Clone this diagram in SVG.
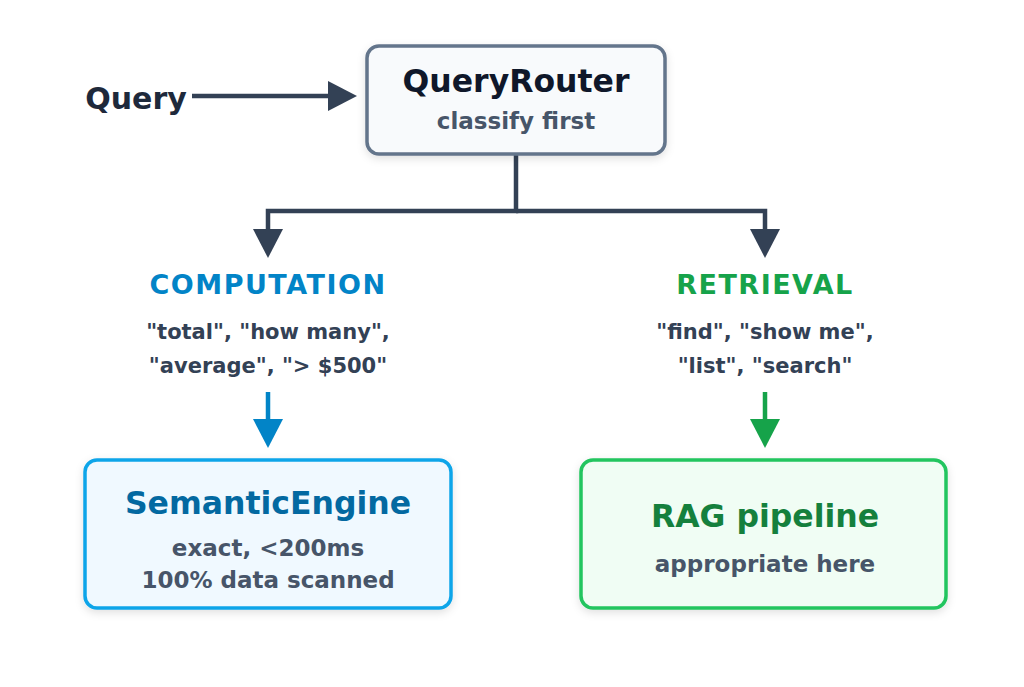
<svg xmlns="http://www.w3.org/2000/svg" width="1024" height="687" viewBox="0 0 1024 687">
<style>
text{font-family:"DejaVu Sans","Liberation Sans",sans-serif;font-weight:bold;text-anchor:middle}
.kw{font-size:21px;fill:#334155}
.sub{font-size:23px;fill:#475569}
.conn{fill:none;stroke:#334155;stroke-width:4.5}
</style>
<defs>
<filter id="sh" x="-10%" y="-10%" width="120%" height="130%">
<feDropShadow dx="0" dy="3" stdDeviation="4" flood-color="#000" flood-opacity="0.12"/>
</filter>
</defs>
<rect width="1024" height="687" fill="#fff"/>
<g id="connectors">
<line class="conn" x1="192" y1="96" x2="330" y2="96"/>
<polygon points="328,81 357,96 328,111" fill="#334155"/>
<polyline class="conn" points="516,154 516,211 268,211 268,232"/>
<polyline class="conn" points="516,211 765,211 765,232"/>
<polygon points="253,229 283,229 268,258" fill="#334155"/>
<polygon points="750,229 780,229 765,258" fill="#334155"/>
<line x1="268" y1="392" x2="268" y2="422" stroke="#0284c7" stroke-width="4.5"/>
<polygon points="253,419 283,419 268,448" fill="#0284c7"/>
<line x1="765" y1="392" x2="765" y2="422" stroke="#16a34a" stroke-width="4.5"/>
<polygon points="750,419 780,419 765,448" fill="#16a34a"/>
</g>
<g id="query">
<text x="136" y="109" style="font-size:30px;fill:#1e293b">Query</text>
</g>
<g id="router">
<rect x="367" y="46" width="298" height="108" rx="12" fill="#f8fafc" stroke="#64748b" stroke-width="3.5" filter="url(#sh)"/>
<text x="516" y="92" style="font-size:31.5px;fill:#0f172a">QueryRouter</text>
<text x="516" y="129" class="sub">classify first</text>
</g>
<g id="computation">
<text x="268" y="294" style="font-size:27px;fill:#0284c7;letter-spacing:1.5px">COMPUTATION</text>
<text x="268" y="339" class="kw">"total", "how many",</text>
<text x="268" y="373" class="kw">"average", "&gt; $500"</text>
</g>
<g id="retrieval">
<text x="765" y="294" style="font-size:27px;fill:#16a34a;letter-spacing:1.5px">RETRIEVAL</text>
<text x="765" y="339" class="kw">"find", "show me",</text>
<text x="765" y="373" class="kw">"list", "search"</text>
</g>
<g id="semantic">
<rect x="85" y="460" width="366" height="148" rx="12" fill="#f0f9ff" stroke="#0ea5e9" stroke-width="3.5" filter="url(#sh)"/>
<text x="268" y="514" style="font-size:31.5px;fill:#0369a1">SemanticEngine</text>
<text x="268" y="556" class="sub">exact, &lt;200ms</text>
<text x="268" y="588" class="sub">100% data scanned</text>
</g>
<g id="rag">
<rect x="581" y="460" width="365" height="148" rx="12" fill="#f0fdf4" stroke="#22c55e" stroke-width="3.5" filter="url(#sh)"/>
<text x="765" y="527" style="font-size:31.5px;fill:#15803d">RAG pipeline</text>
<text x="765" y="572" class="sub">appropriate here</text>
</g>
</svg>
